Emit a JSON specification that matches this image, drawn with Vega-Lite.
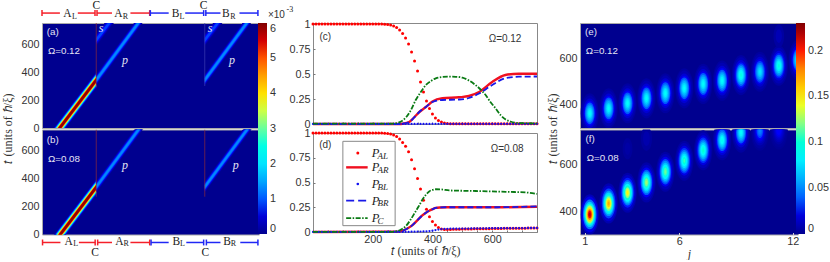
{"$schema":"https://vega.github.io/schema/vega-lite/v6.json","padding":{"left":0,"top":-1,"right":0,"bottom":0},"bounds":"flush","spacing":271,
"resolve":{"scale":{"color":"independent","stroke":"independent","size":"independent"},"legend":{"color":"independent"}},
"config":{"axis":{"grid":false,"domain":false,"labelFont":"Liberation Sans","labelFontSize":10.8,"labelColor":"#333","titleFont":"Liberation Serif","titleFontSize":12,"titleFontWeight":"normal","titleColor":"#333","tickColor":"#777"},
"style":{"Big":{"font":"Liberation Serif","fontSize":11.5},"Sub":{"font":"Liberation Serif","fontSize":8},"Tag":{"font":"Liberation Sans","fontSize":9.8},"Let":{"font":"Liberation Serif","fontStyle":"italic","fontSize":12},"Blk":{"font":"Liberation Sans","fontSize":10},"Pp":{"font":"Liberation Serif","fontStyle":"italic","fontSize":12.5},"Ps":{"font":"Liberation Serif","fontStyle":"italic","fontSize":9}}},
"datasets":{
"a":[{"id":"m1","v":0.3,"x":0,"y":-223,"y2":-109},{"id":"m1","v":0.3,"x":1,"y":286,"y2":400},{"id":"m2","v":0.6,"x":0,"y":-216,"y2":-116},{"id":"m2","v":0.6,"x":1,"y":293,"y2":393},{"id":"m3","v":1,"x":0,"y":-211,"y2":-121},{"id":"m3","v":1,"x":1,"y":298,"y2":388},{"id":"m4","v":1.5,"x":0,"y":-206,"y2":-126},{"id":"m4","v":1.5,"x":1,"y":303,"y2":383},{"id":"m5","v":2,"x":0,"y":-202,"y2":-130},{"id":"m5","v":2,"x":1,"y":307,"y2":379},{"id":"m6","v":2.5,"x":0,"y":-199,"y2":-133},{"id":"m6","v":2.5,"x":1,"y":310,"y2":376},{"id":"m7","v":3,"x":0,"y":-196,"y2":-136},{"id":"m7","v":3,"x":1,"y":313,"y2":373},{"id":"m8","v":3.5,"x":0,"y":-193,"y2":-139},{"id":"m8","v":3.5,"x":1,"y":316,"y2":370},{"id":"m9","v":4,"x":0,"y":-190,"y2":-142},{"id":"m9","v":4,"x":1,"y":319,"y2":367},{"id":"m10","v":4.5,"x":0,"y":-187,"y2":-145},{"id":"m10","v":4.5,"x":1,"y":322,"y2":364},{"id":"m11","v":5,"x":0,"y":-185,"y2":-147},{"id":"m11","v":5,"x":1,"y":324,"y2":362},{"id":"m12","v":5.5,"x":0,"y":-182,"y2":-150},{"id":"m12","v":5.5,"x":1,"y":327,"y2":359},{"id":"m13","v":5.9,"x":0,"y":-179,"y2":-153},{"id":"m13","v":5.9,"x":1,"y":330,"y2":356},
{"id":"p1","v":0.1,"x":1,"y":301,"y2":385},{"id":"p1","v":0.1,"x":2,"y":826,"y2":910},{"id":"p2","v":0.3,"x":1,"y":307,"y2":379},{"id":"p2","v":0.3,"x":2,"y":832,"y2":904},{"id":"p3","v":0.5,"x":1,"y":312,"y2":374},{"id":"p3","v":0.5,"x":2,"y":837,"y2":899},{"id":"p4","v":0.7,"x":1,"y":317,"y2":369},{"id":"p4","v":0.7,"x":2,"y":842,"y2":894},{"id":"p5","v":0.9,"x":1,"y":322,"y2":364},{"id":"p5","v":0.9,"x":2,"y":847,"y2":889},{"id":"p6","v":1.1,"x":1,"y":327,"y2":359},{"id":"p6","v":1.1,"x":2,"y":852,"y2":884},{"id":"p7","v":1.3,"x":1,"y":333,"y2":353},{"id":"p7","v":1.3,"x":2,"y":858,"y2":878},
{"id":"q1","v":0.1,"x":3,"y":301,"y2":385},{"id":"q1","v":0.1,"x":4,"y":826,"y2":910},{"id":"q2","v":0.3,"x":3,"y":307,"y2":379},{"id":"q2","v":0.3,"x":4,"y":832,"y2":904},{"id":"q3","v":0.5,"x":3,"y":312,"y2":374},{"id":"q3","v":0.5,"x":4,"y":837,"y2":899},{"id":"q4","v":0.7,"x":3,"y":317,"y2":369},{"id":"q4","v":0.7,"x":4,"y":842,"y2":894},{"id":"q5","v":0.9,"x":3,"y":322,"y2":364},{"id":"q5","v":0.9,"x":4,"y":847,"y2":889},{"id":"q6","v":1.1,"x":3,"y":327,"y2":359},{"id":"q6","v":1.1,"x":4,"y":852,"y2":884},{"id":"q7","v":1.3,"x":3,"y":333,"y2":353},{"id":"q7","v":1.3,"x":4,"y":858,"y2":878},
{"id":"s1","v":0.1,"x":1,"y":584,"y2":672},{"id":"s1","v":0.1,"x":2,"y":1094,"y2":1182},{"id":"s2","v":0.3,"x":1,"y":592,"y2":664},{"id":"s2","v":0.3,"x":2,"y":1102,"y2":1174},{"id":"s3","v":0.5,"x":1,"y":598,"y2":658},{"id":"s3","v":0.5,"x":2,"y":1108,"y2":1168},{"id":"s4","v":0.7,"x":1,"y":605,"y2":651},{"id":"s4","v":0.7,"x":2,"y":1115,"y2":1161},{"id":"s5","v":0.9,"x":1,"y":613,"y2":643},{"id":"s5","v":0.9,"x":2,"y":1123,"y2":1153},
{"id":"u1","v":0.1,"x":3,"y":584,"y2":672},{"id":"u1","v":0.1,"x":4,"y":1094,"y2":1182},{"id":"u2","v":0.3,"x":3,"y":592,"y2":664},{"id":"u2","v":0.3,"x":4,"y":1102,"y2":1174},{"id":"u3","v":0.5,"x":3,"y":598,"y2":658},{"id":"u3","v":0.5,"x":4,"y":1108,"y2":1168},{"id":"u4","v":0.7,"x":3,"y":605,"y2":651},{"id":"u4","v":0.7,"x":4,"y":1115,"y2":1161},{"id":"u5","v":0.9,"x":3,"y":613,"y2":643},{"id":"u5","v":0.9,"x":4,"y":1123,"y2":1153}],
"b":[{"id":"m1","v":0.3,"x":0,"y":-228,"y2":-114},{"id":"m1","v":0.3,"x":1,"y":281,"y2":395},{"id":"m2","v":0.6,"x":0,"y":-221,"y2":-121},{"id":"m2","v":0.6,"x":1,"y":288,"y2":388},{"id":"m3","v":1,"x":0,"y":-216,"y2":-126},{"id":"m3","v":1,"x":1,"y":293,"y2":383},{"id":"m4","v":1.5,"x":0,"y":-211,"y2":-131},{"id":"m4","v":1.5,"x":1,"y":298,"y2":378},{"id":"m5","v":2,"x":0,"y":-207,"y2":-135},{"id":"m5","v":2,"x":1,"y":302,"y2":374},{"id":"m6","v":2.5,"x":0,"y":-204,"y2":-138},{"id":"m6","v":2.5,"x":1,"y":305,"y2":371},{"id":"m7","v":3,"x":0,"y":-201,"y2":-141},{"id":"m7","v":3,"x":1,"y":308,"y2":368},{"id":"m8","v":3.5,"x":0,"y":-198,"y2":-144},{"id":"m8","v":3.5,"x":1,"y":311,"y2":365},{"id":"m9","v":4,"x":0,"y":-195,"y2":-147},{"id":"m9","v":4,"x":1,"y":314,"y2":362},{"id":"m10","v":4.5,"x":0,"y":-192,"y2":-150},{"id":"m10","v":4.5,"x":1,"y":317,"y2":359},{"id":"m11","v":5,"x":0,"y":-190,"y2":-152},{"id":"m11","v":5,"x":1,"y":319,"y2":357},{"id":"m12","v":5.5,"x":0,"y":-187,"y2":-155},{"id":"m12","v":5.5,"x":1,"y":322,"y2":354},{"id":"m13","v":5.9,"x":0,"y":-184,"y2":-158},{"id":"m13","v":5.9,"x":1,"y":325,"y2":351},
{"id":"p1","v":0.1,"x":1,"y":298,"y2":382},{"id":"p1","v":0.1,"x":2,"y":823,"y2":907},{"id":"p2","v":0.3,"x":1,"y":304,"y2":376},{"id":"p2","v":0.3,"x":2,"y":829,"y2":901},{"id":"p3","v":0.5,"x":1,"y":309,"y2":371},{"id":"p3","v":0.5,"x":2,"y":834,"y2":896},{"id":"p4","v":0.7,"x":1,"y":314,"y2":366},{"id":"p4","v":0.7,"x":2,"y":839,"y2":891},{"id":"p5","v":0.9,"x":1,"y":319,"y2":361},{"id":"p5","v":0.9,"x":2,"y":844,"y2":886},{"id":"p6","v":1.1,"x":1,"y":324,"y2":356},{"id":"p6","v":1.1,"x":2,"y":849,"y2":881},{"id":"p7","v":1.3,"x":1,"y":330,"y2":350},{"id":"p7","v":1.3,"x":2,"y":855,"y2":875},
{"id":"q1","v":0.1,"x":3,"y":298,"y2":382},{"id":"q1","v":0.1,"x":4,"y":823,"y2":907},{"id":"q2","v":0.3,"x":3,"y":304,"y2":376},{"id":"q2","v":0.3,"x":4,"y":829,"y2":901},{"id":"q3","v":0.5,"x":3,"y":309,"y2":371},{"id":"q3","v":0.5,"x":4,"y":834,"y2":896},{"id":"q4","v":0.7,"x":3,"y":314,"y2":366},{"id":"q4","v":0.7,"x":4,"y":839,"y2":891},{"id":"q5","v":0.9,"x":3,"y":319,"y2":361},{"id":"q5","v":0.9,"x":4,"y":844,"y2":886},{"id":"q6","v":1.1,"x":3,"y":324,"y2":356},{"id":"q6","v":1.1,"x":4,"y":849,"y2":881},{"id":"q7","v":1.3,"x":3,"y":330,"y2":350},{"id":"q7","v":1.3,"x":4,"y":855,"y2":875}],
"ra":[{"k":"A","x":0,"x2":0,"y":800,"y2":842},{"k":"A","x":0,"x2":0.33,"y":821,"y2":821},{"k":"A","x":0.66,"x2":0.977,"y":821,"y2":821},{"k":"A","x":0.977,"x2":0.977,"y":800,"y2":842},{"k":"A","x":1.014,"x2":1.014,"y":800,"y2":842},{"k":"A","x":1.014,"x2":1.29,"y":821,"y2":821},{"k":"A","x":1.63,"x2":1.985,"y":821,"y2":821},{"k":"A","x":1.985,"x2":1.985,"y":800,"y2":842},{"k":"B","x":1.997,"x2":1.997,"y":800,"y2":842},{"k":"B","x":1.997,"x2":2.335,"y":821,"y2":821},{"k":"B","x":2.64,"x2":2.98,"y":821,"y2":821},{"k":"B","x":2.98,"x2":2.98,"y":800,"y2":842},{"k":"B","x":3.02,"x2":3.02,"y":800,"y2":842},{"k":"B","x":3.02,"x2":3.29,"y":821,"y2":821},{"k":"B","x":3.64,"x2":3.98,"y":821,"y2":821},{"k":"B","x":3.98,"x2":3.98,"y":800,"y2":842}],
"rb":[{"k":"A","x":0.01,"x2":0.01,"y":-78,"y2":-36},{"k":"A","x":0.01,"x2":0.34,"y":-57,"y2":-57},{"k":"A","x":0.68,"x2":0.98,"y":-57,"y2":-57},{"k":"A","x":0.98,"x2":0.98,"y":-78,"y2":-36},{"k":"A","x":1.026,"x2":1.026,"y":-78,"y2":-36},{"k":"A","x":1.026,"x2":1.29,"y":-57,"y2":-57},{"k":"A","x":1.63,"x2":1.985,"y":-57,"y2":-57},{"k":"A","x":1.985,"x2":1.985,"y":-78,"y2":-36},{"k":"B","x":2.01,"x2":2.01,"y":-78,"y2":-36},{"k":"B","x":2.01,"x2":2.335,"y":-57,"y2":-57},{"k":"B","x":2.66,"x2":2.98,"y":-57,"y2":-57},{"k":"B","x":2.98,"x2":2.98,"y":-78,"y2":-36},{"k":"B","x":3.03,"x2":3.03,"y":-78,"y2":-36},{"k":"B","x":3.03,"x2":3.29,"y":-57,"y2":-57},{"k":"B","x":3.655,"x2":3.98,"y":-57,"y2":-57},{"k":"B","x":3.98,"x2":3.98,"y":-78,"y2":-36}],
"ca":[{"k":"R","x":1,"x2":1,"y":290,"y2":750},{"k":"S","x":3,"x2":3,"y":300,"y2":750}],
"cb":[{"k":"R","x":1,"x2":1,"y":270,"y2":750},{"k":"R","x":3,"x2":3,"y":270,"y2":750}],
"txt":[{"p":"a","k":"Big","x":0.47,"y":814,"s":"A"},{"p":"a","k":"Sub","x":0.6,"y":795,"s":"L"},{"p":"a","k":"Big","x":1.41,"y":814,"s":"A"},{"p":"a","k":"Sub","x":1.54,"y":795,"s":"R"},{"p":"a","k":"Big","x":2.46,"y":814,"s":"B"},{"p":"a","k":"Sub","x":2.58,"y":795,"s":"L"},{"p":"a","k":"Big","x":3.39,"y":814,"s":"B"},{"p":"a","k":"Sub","x":3.52,"y":795,"s":"R"},{"p":"a","k":"Big","x":1,"y":870,"s":"C"},{"p":"a","k":"Big","x":2.98,"y":870,"s":"C"},{"p":"a","k":"Tag","x":0.197,"y":686,"s":"(a)"},{"p":"a","k":"Tag","x":0.405,"y":550,"s":"Ω=0.12"},{"p":"a","k":"Let","x":1.088,"y":714,"s":"s"},{"p":"a","k":"Let","x":1.53,"y":486,"s":"p"},{"p":"a","k":"Let","x":3.1,"y":714,"s":"s"},{"p":"a","k":"Let","x":3.5,"y":486,"s":"p"},{"p":"a","k":"Blk","x":4.32,"y":807,"s":"×10"},{"p":"a","k":"Sub","x":4.57,"y":843,"s":"-3"},
{"p":"b","k":"Big","x":0.49,"y":-55,"s":"A"},{"p":"b","k":"Sub","x":0.62,"y":-71,"s":"L"},{"p":"b","k":"Big","x":1.425,"y":-55,"s":"A"},{"p":"b","k":"Sub","x":1.55,"y":-71,"s":"R"},{"p":"b","k":"Big","x":2.476,"y":-55,"s":"B"},{"p":"b","k":"Sub","x":2.59,"y":-71,"s":"L"},{"p":"b","k":"Big","x":3.41,"y":-55,"s":"B"},{"p":"b","k":"Sub","x":3.53,"y":-71,"s":"R"},{"p":"b","k":"Big","x":0.98,"y":-134,"s":"C"},{"p":"b","k":"Big","x":3.01,"y":-134,"s":"C"},{"p":"b","k":"Tag","x":0.197,"y":678,"s":"(b)"},{"p":"b","k":"Tag","x":0.405,"y":536,"s":"Ω=0.08"},{"p":"b","k":"Let","x":1.53,"y":493,"s":"p"},{"p":"b","k":"Let","x":3.57,"y":493,"s":"p"},
{"p":"c","k":"Blk","x":41,"y":0.867,"s":"(c)"},{"p":"c","k":"Blk","x":643,"y":0.847,"s":"Ω=0.12"},
{"p":"d","k":"Blk","x":41,"y":0.879,"s":"(d)"},{"p":"d","k":"Blk","x":650,"y":0.838,"s":"Ω=0.08"},
{"p":"d","k":"Pp","x":197,"y":0.798,"s":"P"},{"p":"d","k":"Ps","x":216,"y":0.77,"s":"AL"},{"p":"d","k":"Pp","x":197,"y":0.653,"s":"P"},{"p":"d","k":"Ps","x":216,"y":0.625,"s":"AR"},{"p":"d","k":"Pp","x":197,"y":0.485,"s":"P"},{"p":"d","k":"Ps","x":216,"y":0.457,"s":"BL"},{"p":"d","k":"Pp","x":197,"y":0.316,"s":"P"},{"p":"d","k":"Ps","x":216,"y":0.288,"s":"BR"},{"p":"d","k":"Pp","x":197,"y":0.14,"s":"P"},{"p":"d","k":"Ps","x":216,"y":0.112,"s":"C"},
{"p":"e","k":"Tag","x":1.33,"y":713,"s":"(e)"},{"p":"e","k":"Tag","x":1.91,"y":630,"s":"Ω=0.12"},
{"p":"f","k":"Tag","x":1.28,"y":708,"s":"(f)"},{"p":"f","k":"Tag","x":1.95,"y":627,"s":"Ω=0.08"}],
"cl":[{"s":"AR","x":0,"y":0},{"s":"AR","x":290,"y":0},{"s":"AR","x":300,"y":0.003},{"s":"AR","x":322,"y":0.02},{"s":"AR","x":340,"y":0.07},{"s":"AR","x":356,"y":0.12},{"s":"AR","x":378,"y":0.17},{"s":"AR","x":400,"y":0.225},{"s":"AR","x":433,"y":0.257},{"s":"AR","x":489,"y":0.267},{"s":"AR","x":522,"y":0.28},{"s":"AR","x":556,"y":0.32},{"s":"AR","x":600,"y":0.42},{"s":"AR","x":644,"y":0.49},{"s":"AR","x":689,"y":0.503},{"s":"AR","x":750,"y":0.503},
{"s":"BR","x":0,"y":0},{"s":"BR","x":290,"y":0},{"s":"BR","x":300,"y":0.003},{"s":"BR","x":322,"y":0.02},{"s":"BR","x":340,"y":0.07},{"s":"BR","x":356,"y":0.12},{"s":"BR","x":378,"y":0.17},{"s":"BR","x":400,"y":0.22},{"s":"BR","x":433,"y":0.24},{"s":"BR","x":489,"y":0.245},{"s":"BR","x":522,"y":0.26},{"s":"BR","x":556,"y":0.305},{"s":"BR","x":600,"y":0.39},{"s":"BR","x":644,"y":0.457},{"s":"BR","x":689,"y":0.473},{"s":"BR","x":750,"y":0.475},
{"s":"C","x":0,"y":0.003},{"s":"C","x":260,"y":0.003},{"s":"C","x":278,"y":0.008},{"s":"C","x":295,"y":0.025},{"s":"C","x":311,"y":0.065},{"s":"C","x":328,"y":0.14},{"s":"C","x":344,"y":0.24},{"s":"C","x":361,"y":0.32},{"s":"C","x":378,"y":0.39},{"s":"C","x":395,"y":0.43},{"s":"C","x":411,"y":0.457},{"s":"C","x":433,"y":0.47},{"s":"C","x":456,"y":0.473},{"s":"C","x":478,"y":0.472},{"s":"C","x":500,"y":0.463},{"s":"C","x":522,"y":0.435},{"s":"C","x":544,"y":0.39},{"s":"C","x":561,"y":0.345},{"s":"C","x":578,"y":0.29},{"s":"C","x":594,"y":0.22},{"s":"C","x":611,"y":0.157},{"s":"C","x":628,"y":0.09},{"s":"C","x":644,"y":0.047},{"s":"C","x":661,"y":0.025},{"s":"C","x":678,"y":0.013},{"s":"C","x":700,"y":0.009},{"s":"C","x":750,"y":0.007}],
"dl":[{"s":"AR","x":0,"y":0},{"s":"AR","x":285,"y":0.003},{"s":"AR","x":300,"y":0.013},{"s":"AR","x":316,"y":0.035},{"s":"AR","x":333,"y":0.07},{"s":"AR","x":350,"y":0.12},{"s":"AR","x":367,"y":0.17},{"s":"AR","x":378,"y":0.195},{"s":"AR","x":389,"y":0.215},{"s":"AR","x":400,"y":0.23},{"s":"AR","x":411,"y":0.243},{"s":"AR","x":428,"y":0.248},{"s":"AR","x":444,"y":0.25},{"s":"AR","x":600,"y":0.25},{"s":"AR","x":700,"y":0.252},{"s":"AR","x":750,"y":0.255},
{"s":"BR","x":0,"y":0},{"s":"BR","x":285,"y":0.003},{"s":"BR","x":300,"y":0.013},{"s":"BR","x":316,"y":0.035},{"s":"BR","x":333,"y":0.07},{"s":"BR","x":350,"y":0.12},{"s":"BR","x":367,"y":0.17},{"s":"BR","x":378,"y":0.195},{"s":"BR","x":389,"y":0.215},{"s":"BR","x":400,"y":0.23},{"s":"BR","x":411,"y":0.243},{"s":"BR","x":428,"y":0.248},{"s":"BR","x":444,"y":0.25},{"s":"BR","x":600,"y":0.25},{"s":"BR","x":700,"y":0.254},{"s":"BR","x":750,"y":0.26},
{"s":"C","x":0,"y":0.002},{"s":"C","x":265,"y":0.002},{"s":"C","x":278,"y":0.006},{"s":"C","x":295,"y":0.025},{"s":"C","x":311,"y":0.06},{"s":"C","x":328,"y":0.13},{"s":"C","x":344,"y":0.21},{"s":"C","x":356,"y":0.27},{"s":"C","x":367,"y":0.33},{"s":"C","x":378,"y":0.375},{"s":"C","x":389,"y":0.41},{"s":"C","x":400,"y":0.425},{"s":"C","x":411,"y":0.432},{"s":"C","x":430,"y":0.43},{"s":"C","x":456,"y":0.42},{"s":"C","x":530,"y":0.415},{"s":"C","x":600,"y":0.41},{"s":"C","x":660,"y":0.405},{"s":"C","x":711,"y":0.4},{"s":"C","x":750,"y":0.385}],
"cal":[{"x":0,"y":1},{"x":10,"y":1},{"x":20,"y":1},{"x":30,"y":1},{"x":40,"y":1},{"x":50,"y":1},{"x":60,"y":1},{"x":70,"y":1},{"x":80,"y":1},{"x":90,"y":1},{"x":100,"y":1},{"x":110,"y":1},{"x":120,"y":1},{"x":130,"y":1},{"x":140,"y":1},{"x":150,"y":1},{"x":160,"y":1},{"x":170,"y":1},{"x":180,"y":1},{"x":190,"y":1},{"x":200,"y":1},{"x":210,"y":1},{"x":220,"y":1},{"x":230,"y":0.999},{"x":240,"y":0.998},{"x":250,"y":0.995},{"x":260,"y":0.99},{"x":270,"y":0.98},{"x":280,"y":0.965},{"x":290,"y":0.94},{"x":300,"y":0.905},{"x":310,"y":0.86},{"x":320,"y":0.8},{"x":330,"y":0.72},{"x":340,"y":0.63},{"x":350,"y":0.53},{"x":360,"y":0.42},{"x":370,"y":0.32},{"x":380,"y":0.23},{"x":390,"y":0.155},{"x":400,"y":0.1},{"x":410,"y":0.06},{"x":420,"y":0.035},{"x":430,"y":0.02},{"x":440,"y":0.01},{"x":450,"y":0.005},{"x":460,"y":0.002},{"x":470,"y":0.002},{"x":480,"y":0.002},{"x":490,"y":0.002},{"x":500,"y":0.002},{"x":510,"y":0.002},{"x":520,"y":0.002},{"x":530,"y":0.002},{"x":540,"y":0.002},{"x":550,"y":0.002},{"x":560,"y":0.002},{"x":570,"y":0.002},{"x":580,"y":0.002},{"x":590,"y":0.002},{"x":600,"y":0.002},{"x":610,"y":0.002},{"x":620,"y":0.002},{"x":630,"y":0.002},{"x":640,"y":0.002},{"x":650,"y":0.002},{"x":660,"y":0.002},{"x":670,"y":0.002},{"x":680,"y":0.002},{"x":690,"y":0.002},{"x":700,"y":0.002},{"x":710,"y":0.002},{"x":720,"y":0.002},{"x":730,"y":0.002},{"x":740,"y":0.002},{"x":750,"y":0.002}],
"dal":[{"x":0,"y":1},{"x":10,"y":1},{"x":20,"y":1},{"x":30,"y":1},{"x":40,"y":1},{"x":50,"y":1},{"x":60,"y":1},{"x":70,"y":1},{"x":80,"y":1},{"x":90,"y":1},{"x":100,"y":1},{"x":110,"y":1},{"x":120,"y":1},{"x":130,"y":1},{"x":140,"y":1},{"x":150,"y":1},{"x":160,"y":1},{"x":170,"y":1},{"x":180,"y":1},{"x":190,"y":1},{"x":200,"y":1},{"x":210,"y":1},{"x":220,"y":1},{"x":230,"y":0.999},{"x":240,"y":0.998},{"x":250,"y":0.996},{"x":260,"y":0.99},{"x":270,"y":0.98},{"x":280,"y":0.965},{"x":290,"y":0.94},{"x":300,"y":0.905},{"x":310,"y":0.865},{"x":320,"y":0.81},{"x":330,"y":0.73},{"x":340,"y":0.64},{"x":350,"y":0.54},{"x":360,"y":0.435},{"x":370,"y":0.32},{"x":380,"y":0.23},{"x":390,"y":0.155},{"x":400,"y":0.105},{"x":410,"y":0.07},{"x":420,"y":0.045},{"x":430,"y":0.03},{"x":440,"y":0.026},{"x":450,"y":0.025},{"x":460,"y":0.026},{"x":470,"y":0.027},{"x":480,"y":0.028},{"x":490,"y":0.029},{"x":500,"y":0.03},{"x":510,"y":0.03},{"x":520,"y":0.031},{"x":530,"y":0.031},{"x":540,"y":0.032},{"x":550,"y":0.032},{"x":560,"y":0.033},{"x":570,"y":0.033},{"x":580,"y":0.034},{"x":590,"y":0.034},{"x":600,"y":0.035},{"x":610,"y":0.035},{"x":620,"y":0.036},{"x":630,"y":0.036},{"x":640,"y":0.037},{"x":650,"y":0.037},{"x":660,"y":0.038},{"x":670,"y":0.038},{"x":680,"y":0.038},{"x":690,"y":0.039},{"x":700,"y":0.039},{"x":710,"y":0.039},{"x":720,"y":0.04},{"x":730,"y":0.04},{"x":740,"y":0.04},{"x":750,"y":0.04}],
"cbl":[{"x":0,"y":0.001},{"x":10,"y":0.001},{"x":20,"y":0.001},{"x":30,"y":0.001},{"x":40,"y":0.001},{"x":50,"y":0.001},{"x":60,"y":0.001},{"x":70,"y":0.001},{"x":80,"y":0.001},{"x":90,"y":0.001},{"x":100,"y":0.001},{"x":110,"y":0.001},{"x":120,"y":0.001},{"x":130,"y":0.001},{"x":140,"y":0.001},{"x":150,"y":0.001},{"x":160,"y":0.001},{"x":170,"y":0.001},{"x":180,"y":0.001},{"x":190,"y":0.001},{"x":200,"y":0.001},{"x":210,"y":0.001},{"x":220,"y":0.001},{"x":230,"y":0.001},{"x":240,"y":0.001},{"x":250,"y":0.001},{"x":260,"y":0.001},{"x":270,"y":0.001},{"x":280,"y":0.001},{"x":290,"y":0.001},{"x":300,"y":0.001},{"x":310,"y":0.001},{"x":320,"y":0.001},{"x":330,"y":0.001},{"x":340,"y":0.001},{"x":350,"y":0.001},{"x":360,"y":0.001},{"x":370,"y":0.001},{"x":380,"y":0.001},{"x":390,"y":0.001},{"x":400,"y":0.002},{"x":410,"y":0.002},{"x":420,"y":0.002},{"x":430,"y":0.002},{"x":440,"y":0.002},{"x":450,"y":0.002},{"x":460,"y":0.002},{"x":470,"y":0.002},{"x":480,"y":0.002},{"x":490,"y":0.002},{"x":500,"y":0.002},{"x":510,"y":0.002},{"x":520,"y":0.002},{"x":530,"y":0.002},{"x":540,"y":0.002},{"x":550,"y":0.002},{"x":560,"y":0.002},{"x":570,"y":0.002},{"x":580,"y":0.002},{"x":590,"y":0.002},{"x":600,"y":0.002},{"x":610,"y":0.002},{"x":620,"y":0.002},{"x":630,"y":0.002},{"x":640,"y":0.002},{"x":650,"y":0.002},{"x":660,"y":0.002},{"x":670,"y":0.002},{"x":680,"y":0.002},{"x":690,"y":0.002},{"x":700,"y":0.002},{"x":710,"y":0.002},{"x":720,"y":0.002},{"x":730,"y":0.002},{"x":740,"y":0.002},{"x":750,"y":0.002}],
"dbl":[{"x":0,"y":0.001},{"x":10,"y":0.001},{"x":20,"y":0.001},{"x":30,"y":0.001},{"x":40,"y":0.001},{"x":50,"y":0.001},{"x":60,"y":0.001},{"x":70,"y":0.001},{"x":80,"y":0.001},{"x":90,"y":0.001},{"x":100,"y":0.001},{"x":110,"y":0.001},{"x":120,"y":0.001},{"x":130,"y":0.001},{"x":140,"y":0.001},{"x":150,"y":0.001},{"x":160,"y":0.001},{"x":170,"y":0.001},{"x":180,"y":0.001},{"x":190,"y":0.001},{"x":200,"y":0.001},{"x":210,"y":0.001},{"x":220,"y":0.001},{"x":230,"y":0.001},{"x":240,"y":0.001},{"x":250,"y":0.001},{"x":260,"y":0.001},{"x":270,"y":0.001},{"x":280,"y":0.001},{"x":290,"y":0.001},{"x":300,"y":0.001},{"x":310,"y":0.002},{"x":320,"y":0.002},{"x":330,"y":0.003},{"x":340,"y":0.003},{"x":350,"y":0.004},{"x":360,"y":0.005},{"x":370,"y":0.006},{"x":380,"y":0.007},{"x":390,"y":0.01},{"x":400,"y":0.013},{"x":410,"y":0.02},{"x":420,"y":0.025},{"x":430,"y":0.03},{"x":440,"y":0.031},{"x":450,"y":0.032},{"x":460,"y":0.033},{"x":470,"y":0.033},{"x":480,"y":0.034},{"x":490,"y":0.034},{"x":500,"y":0.035},{"x":510,"y":0.035},{"x":520,"y":0.035},{"x":530,"y":0.036},{"x":540,"y":0.036},{"x":550,"y":0.036},{"x":560,"y":0.037},{"x":570,"y":0.037},{"x":580,"y":0.037},{"x":590,"y":0.038},{"x":600,"y":0.038},{"x":610,"y":0.038},{"x":620,"y":0.038},{"x":630,"y":0.039},{"x":640,"y":0.039},{"x":650,"y":0.039},{"x":660,"y":0.039},{"x":670,"y":0.04},{"x":680,"y":0.04},{"x":690,"y":0.04},{"x":700,"y":0.04},{"x":710,"y":0.04},{"x":720,"y":0.041},{"x":730,"y":0.041},{"x":740,"y":0.041},{"x":750,"y":0.041}],
"leg":[{"x":100,"x2":275,"y":0.064,"y2":0.916,"s":"box"},{"x":111,"x2":183,"y":0.653,"s":"AR"},{"x":111,"x2":183,"y":0.316,"s":"BR"},{"x":111,"x2":183,"y":0.14,"s":"C"},{"x":150,"y":0.798,"s":"AL"},{"x":150,"y":0.485,"s":"BL"}],
"e":[
{"x":1.265,"y":363,"v":0.0045,"h":62},{"x":1.265,"y":363,"v":0.009,"h":55},{"x":1.265,"y":363,"v":0.018,"h":46},{"x":1.265,"y":363,"v":0.027,"h":39},{"x":1.265,"y":363,"v":0.038,"h":33.5},{"x":1.265,"y":363,"v":0.05,"h":28},{"x":1.265,"y":363,"v":0.061,"h":22.5},{"x":1.265,"y":363,"v":0.072,"h":17},{"x":1.265,"y":363,"v":0.081,"h":12},{"x":1.265,"y":363,"v":0.087,"h":6},
{"x":2.265,"y":384,"v":0.0045,"h":62},{"x":2.265,"y":384,"v":0.009,"h":55},{"x":2.265,"y":384,"v":0.018,"h":46},{"x":2.265,"y":384,"v":0.027,"h":39},{"x":2.265,"y":384,"v":0.038,"h":33.5},{"x":2.265,"y":384,"v":0.05,"h":28},{"x":2.265,"y":384,"v":0.061,"h":22.5},{"x":2.265,"y":384,"v":0.072,"h":17},{"x":2.265,"y":384,"v":0.081,"h":12},{"x":2.265,"y":384,"v":0.087,"h":6},
{"x":3.265,"y":406,"v":0.0045,"h":62},{"x":3.265,"y":406,"v":0.009,"h":55},{"x":3.265,"y":406,"v":0.018,"h":46},{"x":3.265,"y":406,"v":0.027,"h":39},{"x":3.265,"y":406,"v":0.038,"h":33.5},{"x":3.265,"y":406,"v":0.05,"h":28},{"x":3.265,"y":406,"v":0.061,"h":22.5},{"x":3.265,"y":406,"v":0.072,"h":17},{"x":3.265,"y":406,"v":0.081,"h":12},{"x":3.265,"y":406,"v":0.087,"h":6},
{"x":4.265,"y":427,"v":0.0045,"h":62},{"x":4.265,"y":427,"v":0.009,"h":55},{"x":4.265,"y":427,"v":0.018,"h":46},{"x":4.265,"y":427,"v":0.027,"h":39},{"x":4.265,"y":427,"v":0.038,"h":33.5},{"x":4.265,"y":427,"v":0.05,"h":28},{"x":4.265,"y":427,"v":0.061,"h":22.5},{"x":4.265,"y":427,"v":0.072,"h":17},{"x":4.265,"y":427,"v":0.081,"h":12},{"x":4.265,"y":427,"v":0.087,"h":6},
{"x":5.265,"y":449,"v":0.0045,"h":62},{"x":5.265,"y":449,"v":0.009,"h":55},{"x":5.265,"y":449,"v":0.018,"h":46},{"x":5.265,"y":449,"v":0.027,"h":39},{"x":5.265,"y":449,"v":0.038,"h":33.5},{"x":5.265,"y":449,"v":0.05,"h":28},{"x":5.265,"y":449,"v":0.061,"h":22.5},{"x":5.265,"y":449,"v":0.072,"h":17},{"x":5.265,"y":449,"v":0.081,"h":12},{"x":5.265,"y":449,"v":0.087,"h":6},
{"x":6.265,"y":470,"v":0.0045,"h":62},{"x":6.265,"y":470,"v":0.009,"h":55},{"x":6.265,"y":470,"v":0.018,"h":46},{"x":6.265,"y":470,"v":0.027,"h":39},{"x":6.265,"y":470,"v":0.038,"h":33.5},{"x":6.265,"y":470,"v":0.05,"h":28},{"x":6.265,"y":470,"v":0.061,"h":22.5},{"x":6.265,"y":470,"v":0.072,"h":17},{"x":6.265,"y":470,"v":0.081,"h":12},{"x":6.265,"y":470,"v":0.087,"h":6},
{"x":7.265,"y":489,"v":0.0045,"h":62},{"x":7.265,"y":489,"v":0.009,"h":55},{"x":7.265,"y":489,"v":0.018,"h":46},{"x":7.265,"y":489,"v":0.027,"h":39},{"x":7.265,"y":489,"v":0.038,"h":33.5},{"x":7.265,"y":489,"v":0.05,"h":28},{"x":7.265,"y":489,"v":0.061,"h":22.5},{"x":7.265,"y":489,"v":0.072,"h":17},{"x":7.265,"y":489,"v":0.081,"h":12},{"x":7.265,"y":489,"v":0.087,"h":6},
{"x":8.265,"y":503,"v":0.0045,"h":62},{"x":8.265,"y":503,"v":0.009,"h":55},{"x":8.265,"y":503,"v":0.018,"h":46},{"x":8.265,"y":503,"v":0.027,"h":39},{"x":8.265,"y":503,"v":0.038,"h":33.5},{"x":8.265,"y":503,"v":0.05,"h":28},{"x":8.265,"y":503,"v":0.061,"h":22.5},{"x":8.265,"y":503,"v":0.072,"h":17},{"x":8.265,"y":503,"v":0.081,"h":12},{"x":8.265,"y":503,"v":0.087,"h":6},
{"x":9.265,"y":527,"v":0.005,"h":62},{"x":9.265,"y":527,"v":0.01,"h":55},{"x":9.265,"y":527,"v":0.02,"h":46},{"x":9.265,"y":527,"v":0.03,"h":39},{"x":9.265,"y":527,"v":0.042,"h":33.5},{"x":9.265,"y":527,"v":0.055,"h":28},{"x":9.265,"y":527,"v":0.068,"h":22.5},{"x":9.265,"y":527,"v":0.08,"h":17},{"x":9.265,"y":527,"v":0.09,"h":12},{"x":9.265,"y":527,"v":0.097,"h":6},
{"x":10.265,"y":541,"v":0.004,"h":62},{"x":10.265,"y":541,"v":0.008,"h":55},{"x":10.265,"y":541,"v":0.016,"h":46},{"x":10.265,"y":541,"v":0.024,"h":39},{"x":10.265,"y":541,"v":0.034,"h":33.5},{"x":10.265,"y":541,"v":0.044,"h":28},{"x":10.265,"y":541,"v":0.054,"h":22.5},{"x":10.265,"y":541,"v":0.064,"h":17},{"x":10.265,"y":541,"v":0.072,"h":12},{"x":10.265,"y":541,"v":0.078,"h":6},
{"x":11.265,"y":567,"v":0.005,"h":62},{"x":11.265,"y":567,"v":0.01,"h":55},{"x":11.265,"y":567,"v":0.02,"h":46},{"x":11.265,"y":567,"v":0.03,"h":39},{"x":11.265,"y":567,"v":0.042,"h":33.5},{"x":11.265,"y":567,"v":0.055,"h":28},{"x":11.265,"y":567,"v":0.068,"h":22.5},{"x":11.265,"y":567,"v":0.08,"h":17},{"x":11.265,"y":567,"v":0.09,"h":12},{"x":11.265,"y":567,"v":0.097,"h":6},
{"x":12.265,"y":591,"v":0.0045,"h":62},{"x":12.265,"y":591,"v":0.009,"h":55},{"x":12.265,"y":591,"v":0.018,"h":46},{"x":12.265,"y":591,"v":0.027,"h":39},{"x":12.265,"y":591,"v":0.038,"h":33.5},{"x":12.265,"y":591,"v":0.05,"h":28},{"x":12.265,"y":591,"v":0.061,"h":22.5},{"x":12.265,"y":591,"v":0.072,"h":17},{"x":12.265,"y":591,"v":0.081,"h":12},{"x":12.265,"y":591,"v":0.087,"h":6},
{"x":11.265,"y":694,"v":0.005,"h":36},{"x":11.265,"y":694,"v":0.01,"h":21}],
"f":[
{"x":1.265,"y":386,"v":0.011,"h":62},{"x":1.265,"y":386,"v":0.023,"h":55},{"x":1.265,"y":386,"v":0.045,"h":46},{"x":1.265,"y":386,"v":0.068,"h":39},{"x":1.265,"y":386,"v":0.095,"h":33.5},{"x":1.265,"y":386,"v":0.124,"h":28},{"x":1.265,"y":386,"v":0.153,"h":22.5},{"x":1.265,"y":386,"v":0.18,"h":17},{"x":1.265,"y":386,"v":0.203,"h":12},{"x":1.265,"y":386,"v":0.218,"h":6},
{"x":2.265,"y":433,"v":0.009,"h":62},{"x":2.265,"y":433,"v":0.018,"h":55},{"x":2.265,"y":433,"v":0.035,"h":46},{"x":2.265,"y":433,"v":0.053,"h":39},{"x":2.265,"y":433,"v":0.074,"h":33.5},{"x":2.265,"y":433,"v":0.096,"h":28},{"x":2.265,"y":433,"v":0.119,"h":22.5},{"x":2.265,"y":433,"v":0.14,"h":17},{"x":2.265,"y":433,"v":0.158,"h":12},{"x":2.265,"y":433,"v":0.17,"h":6},
{"x":3.265,"y":479,"v":0.0075,"h":62},{"x":3.265,"y":479,"v":0.015,"h":55},{"x":3.265,"y":479,"v":0.03,"h":46},{"x":3.265,"y":479,"v":0.045,"h":39},{"x":3.265,"y":479,"v":0.063,"h":33.5},{"x":3.265,"y":479,"v":0.083,"h":28},{"x":3.265,"y":479,"v":0.102,"h":22.5},{"x":3.265,"y":479,"v":0.12,"h":17},{"x":3.265,"y":479,"v":0.135,"h":12},{"x":3.265,"y":479,"v":0.146,"h":6},
{"x":4.265,"y":523,"v":0.0065,"h":62},{"x":4.265,"y":523,"v":0.013,"h":55},{"x":4.265,"y":523,"v":0.026,"h":46},{"x":4.265,"y":523,"v":0.039,"h":39},{"x":4.265,"y":523,"v":0.055,"h":33.5},{"x":4.265,"y":523,"v":0.072,"h":28},{"x":4.265,"y":523,"v":0.088,"h":22.5},{"x":4.265,"y":523,"v":0.104,"h":17},{"x":4.265,"y":523,"v":0.117,"h":12},{"x":4.265,"y":523,"v":0.126,"h":6},
{"x":5.265,"y":569,"v":0.006,"h":62},{"x":5.265,"y":569,"v":0.012,"h":55},{"x":5.265,"y":569,"v":0.024,"h":46},{"x":5.265,"y":569,"v":0.036,"h":39},{"x":5.265,"y":569,"v":0.05,"h":33.5},{"x":5.265,"y":569,"v":0.066,"h":28},{"x":5.265,"y":569,"v":0.082,"h":22.5},{"x":5.265,"y":569,"v":0.096,"h":17},{"x":5.265,"y":569,"v":0.108,"h":12},{"x":5.265,"y":569,"v":0.116,"h":6},
{"x":6.265,"y":616,"v":0.0055,"h":62},{"x":6.265,"y":616,"v":0.011,"h":55},{"x":6.265,"y":616,"v":0.022,"h":46},{"x":6.265,"y":616,"v":0.033,"h":39},{"x":6.265,"y":616,"v":0.046,"h":33.5},{"x":6.265,"y":616,"v":0.06,"h":28},{"x":6.265,"y":616,"v":0.075,"h":22.5},{"x":6.265,"y":616,"v":0.088,"h":17},{"x":6.265,"y":616,"v":0.099,"h":12},{"x":6.265,"y":616,"v":0.107,"h":6},
{"x":7.265,"y":661,"v":0.0053,"h":62},{"x":7.265,"y":661,"v":0.011,"h":55},{"x":7.265,"y":661,"v":0.021,"h":46},{"x":7.265,"y":661,"v":0.032,"h":39},{"x":7.265,"y":661,"v":0.044,"h":33.5},{"x":7.265,"y":661,"v":0.058,"h":28},{"x":7.265,"y":661,"v":0.071,"h":22.5},{"x":7.265,"y":661,"v":0.084,"h":17},{"x":7.265,"y":661,"v":0.095,"h":12},{"x":7.265,"y":661,"v":0.102,"h":6},
{"x":8.265,"y":704,"v":0.0048,"h":62},{"x":8.265,"y":704,"v":0.0095,"h":55},{"x":8.265,"y":704,"v":0.019,"h":46},{"x":8.265,"y":704,"v":0.029,"h":39},{"x":8.265,"y":704,"v":0.04,"h":33.5},{"x":8.265,"y":704,"v":0.052,"h":28},{"x":8.265,"y":704,"v":0.065,"h":22.5},{"x":8.265,"y":704,"v":0.076,"h":17},{"x":8.265,"y":704,"v":0.086,"h":12},{"x":8.265,"y":704,"v":0.092,"h":6},
{"x":9.265,"y":737,"v":0.0045,"h":62},{"x":9.265,"y":737,"v":0.009,"h":55},{"x":9.265,"y":737,"v":0.018,"h":46},{"x":9.265,"y":737,"v":0.027,"h":39},{"x":9.265,"y":737,"v":0.038,"h":33.5},{"x":9.265,"y":737,"v":0.05,"h":28},{"x":9.265,"y":737,"v":0.061,"h":22.5},{"x":9.265,"y":737,"v":0.072,"h":17},{"x":9.265,"y":737,"v":0.081,"h":12},{"x":9.265,"y":737,"v":0.087,"h":6},
{"x":10.265,"y":745,"v":0.0025,"h":62},{"x":10.265,"y":745,"v":0.005,"h":55},{"x":10.265,"y":745,"v":0.01,"h":46},{"x":10.265,"y":745,"v":0.015,"h":39},{"x":10.265,"y":745,"v":0.021,"h":33.5},{"x":10.265,"y":745,"v":0.028,"h":28},{"x":10.265,"y":745,"v":0.034,"h":22.5},{"x":10.265,"y":745,"v":0.04,"h":17},{"x":10.265,"y":745,"v":0.045,"h":12},{"x":10.265,"y":745,"v":0.049,"h":6},
{"x":11.265,"y":750,"v":0.0018,"h":62},{"x":11.265,"y":750,"v":0.0035,"h":55},{"x":11.265,"y":750,"v":0.007,"h":46},{"x":11.265,"y":750,"v":0.011,"h":39},{"x":11.265,"y":750,"v":0.015,"h":33.5},{"x":11.265,"y":750,"v":0.019,"h":28},{"x":11.265,"y":750,"v":0.024,"h":22.5},{"x":11.265,"y":750,"v":0.028,"h":17},
{"x":4.265,"y":711,"v":0.004,"h":38},{"x":4.265,"y":711,"v":0.008,"h":23},{"x":3.265,"y":668,"v":0.0034,"h":33},{"x":3.265,"y":668,"v":0.006,"h":19}]
},
"hconcat":[
{"vconcat":[
{"width":217,"height":105,"view":{"fill":"#00008f","stroke":"#aaa"},
"encoding":{"x":{"field":"x","type":"quantitative","scale":{"domain":[0,4],"nice":false,"zero":false},"axis":null},"y":{"field":"y","type":"quantitative","scale":{"domain":[0,750],"nice":false,"zero":false},"axis":{"values":[0,200,400,600],"tickSize":0,"labelPadding":3,"title":"𝑡 (units of ℏ/ξ)","titleX":-28,"titleY":105}}},
"layer":[
{"data":{"name":"a"},"mark":{"type":"area","orient":"vertical","clip":true},"encoding":{"y2":{"field":"y2"},"detail":{"field":"id"},"color":{"field":"v","type":"quantitative","scale":{"domain":[0,0.75,2.25,3.75,5.25,6],"range":["#00008f","#0000ff","#00ffff","#ffff00","#ff0000","#800000"]},"legend":{"orient":"none","legendX":216,"legendY":0,"padding":0,"direction":"vertical","gradientLength":211,"gradientThickness":9,"title":null,"values":[0,1,2,3,4,5,6],"labelFont":"Liberation Sans","labelFontSize":10.8,"labelColor":"#333","labelOffset":3}}}},
{"data":{"name":"ca"},"mark":{"type":"rule","strokeWidth":1,"opacity":0.7,"clip":true},"encoding":{"x2":{"field":"x2"},"y2":{"field":"y2"},"stroke":{"field":"k","type":"nominal","scale":{"domain":["A","B","R","S"],"range":["#f5202a","#2028f5","#8a2a3a","#3c3cb0"]},"legend":null}}},
{"data":{"name":"ra"},"mark":{"type":"rule","strokeWidth":1.5},"encoding":{"x2":{"field":"x2"},"y2":{"field":"y2"},"stroke":{"field":"k","type":"nominal","scale":{"domain":["A","B","R","S"],"range":["#f5202a","#2028f5","#8a2a3a","#3c3cb0"]},"legend":null}}},
{"data":{"name":"txt"},"transform":[{"filter":"datum.p=='a'&&datum.k=='Big'"}],"mark":{"type":"text","style":"Big","color":"#222"},"encoding":{"text":{"field":"s"}}},
{"data":{"name":"txt"},"transform":[{"filter":"datum.p=='a'&&datum.k=='Sub'"}],"mark":{"type":"text","style":"Sub","color":"#222"},"encoding":{"text":{"field":"s"}}},
{"data":{"name":"txt"},"transform":[{"filter":"datum.p=='a'&&datum.k=='Tag'"}],"mark":{"type":"text","style":"Tag","color":"#e4e4f4"},"encoding":{"text":{"field":"s"}}},
{"data":{"name":"txt"},"transform":[{"filter":"datum.p=='a'&&datum.k=='Let'"}],"mark":{"type":"text","style":"Let","color":"#e4e4f4"},"encoding":{"text":{"field":"s"}}},
{"data":{"name":"txt"},"transform":[{"filter":"datum.p=='a'&&datum.k=='Blk'"}],"mark":{"type":"text","style":"Blk","color":"#333"},"encoding":{"text":{"field":"s"}}}
]},
{"width":217,"height":105,"view":{"fill":"#00008f","stroke":"#aaa"},
"encoding":{"x":{"field":"x","type":"quantitative","scale":{"domain":[0,4],"nice":false,"zero":false},"axis":null},"y":{"field":"y","type":"quantitative","scale":{"domain":[0,750],"nice":false,"zero":false},"axis":{"values":[0,200,400,600],"tickSize":0,"labelPadding":3,"title":null}}},
"layer":[
{"data":{"name":"b"},"mark":{"type":"area","orient":"vertical","clip":true},"encoding":{"y2":{"field":"y2"},"detail":{"field":"id"},"color":{"field":"v","type":"quantitative","scale":{"domain":[0,0.75,2.25,3.75,5.25,6],"range":["#00008f","#0000ff","#00ffff","#ffff00","#ff0000","#800000"]},"legend":null}}},
{"data":{"name":"cb"},"mark":{"type":"rule","strokeWidth":1,"opacity":0.7,"clip":true},"encoding":{"x2":{"field":"x2"},"y2":{"field":"y2"},"stroke":{"field":"k","type":"nominal","scale":{"domain":["A","B","R","S"],"range":["#f5202a","#2028f5","#8a2a3a","#3c3cb0"]},"legend":null}}},
{"data":{"name":"rb"},"mark":{"type":"rule","strokeWidth":1.5},"encoding":{"x2":{"field":"x2"},"y2":{"field":"y2"},"stroke":{"field":"k","type":"nominal","scale":{"domain":["A","B","R","S"],"range":["#f5202a","#2028f5","#8a2a3a","#3c3cb0"]},"legend":null}}},
{"data":{"name":"txt"},"transform":[{"filter":"datum.p=='b'&&datum.k=='Big'"}],"mark":{"type":"text","style":"Big","color":"#222"},"encoding":{"text":{"field":"s"}}},
{"data":{"name":"txt"},"transform":[{"filter":"datum.p=='b'&&datum.k=='Sub'"}],"mark":{"type":"text","style":"Sub","color":"#222"},"encoding":{"text":{"field":"s"}}},
{"data":{"name":"txt"},"transform":[{"filter":"datum.p=='b'&&datum.k=='Tag'"}],"mark":{"type":"text","style":"Tag","color":"#e4e4f4"},"encoding":{"text":{"field":"s"}}},
{"data":{"name":"txt"},"transform":[{"filter":"datum.p=='b'&&datum.k=='Let'"}],"mark":{"type":"text","style":"Let","color":"#e4e4f4"},"encoding":{"text":{"field":"s"}}}
]}
],"spacing":1.5,"bounds":"flush"},
{"hconcat":[
{"vconcat":[
{"width":224,"height":101,"view":{"stroke":"#888"},
"encoding":{"x":{"field":"x","type":"quantitative","scale":{"domain":[0,750],"nice":false,"zero":false},"axis":{"values":[0,50,100,150,200,250,300,350,400,450,500,550,600,650,700,750],"labels":false,"tickSize":-2,"title":null}},"y":{"field":"y","type":"quantitative","scale":{"domain":[0,1.01],"nice":false,"zero":false},"axis":{"values":[0,0.25,0.5,0.75,1],"format":".2~f","tickSize":-2,"labelPadding":5,"title":null}}},
"layer":[
{"data":{"name":"cal"},"mark":{"type":"point","filled":true,"size":9,"color":"#f00","opacity":1}},
{"data":{"name":"cl"},"transform":[{"filter":"datum.s=='AR'"}],"mark":{"type":"line","color":"#f01020","strokeWidth":2.4,"interpolate":"monotone"}},
{"data":{"name":"cbl"},"mark":{"type":"point","filled":true,"size":5,"color":"#1010f0","opacity":1}},
{"data":{"name":"cl"},"transform":[{"filter":"datum.s=='BR'"}],"mark":{"type":"line","color":"#1818e8","strokeWidth":1.8,"strokeDash":[6,3],"interpolate":"monotone"}},
{"data":{"name":"cl"},"transform":[{"filter":"datum.s=='C'"}],"mark":{"type":"line","color":"#0a7a14","strokeWidth":1.8,"strokeDash":[5,1.5,1.5,1.5],"interpolate":"monotone"}},
{"data":{"name":"txt"},"transform":[{"filter":"datum.p=='c'&&datum.k=='Blk'"}],"mark":{"type":"text","style":"Blk","color":"#333"},"encoding":{"text":{"field":"s"}}}
]},
{"width":224,"height":99,"view":{"stroke":"#888"},
"encoding":{"x":{"field":"x","type":"quantitative","scale":{"domain":[0,750],"nice":false,"zero":false},"axis":{"values":[0,50,100,150,200,250,300,350,400,450,500,550,600,650,700,750],"labelExpr":"datum.value%200==0&&datum.value>0?datum.label:''","tickSize":-2,"labelPadding":3,"title":"𝑡 (units of ℏ/ξ)","titlePadding":2}},"y":{"field":"y","type":"quantitative","scale":{"domain":[0,1],"nice":false,"zero":false},"axis":{"values":[0,0.25,0.5,0.75,1],"format":".2~f","tickSize":-2,"labelPadding":5,"title":null}}},
"layer":[
{"data":{"name":"dal"},"mark":{"type":"point","filled":true,"size":9,"color":"#f00","opacity":1}},
{"data":{"name":"dl"},"transform":[{"filter":"datum.s=='AR'"}],"mark":{"type":"line","color":"#f01020","strokeWidth":2.4,"interpolate":"monotone"}},
{"data":{"name":"dbl"},"mark":{"type":"point","filled":true,"size":5,"color":"#1010f0","opacity":1}},
{"data":{"name":"dl"},"transform":[{"filter":"datum.s=='BR'"}],"mark":{"type":"line","color":"#1818e8","strokeWidth":1.8,"strokeDash":[6,3],"interpolate":"monotone"}},
{"data":{"name":"dl"},"transform":[{"filter":"datum.s=='C'"}],"mark":{"type":"line","color":"#0a7a14","strokeWidth":1.8,"strokeDash":[5,1.5,1.5,1.5],"interpolate":"monotone"}},
{"data":{"name":"leg"},"transform":[{"filter":"datum.s=='box'"}],"mark":{"type":"rect","fill":"#fff","stroke":"#888","strokeWidth":1},"encoding":{"x2":{"field":"x2"},"y2":{"field":"y2"}}},
{"data":{"name":"leg"},"transform":[{"filter":"datum.s=='AL'"}],"mark":{"type":"point","filled":true,"size":9,"color":"#f00","opacity":1}},
{"data":{"name":"leg"},"transform":[{"filter":"datum.s=='BL'"}],"mark":{"type":"point","filled":true,"size":7,"color":"#1010f0","opacity":1}},
{"data":{"name":"leg"},"transform":[{"filter":"datum.s=='AR'"}],"mark":{"type":"rule","color":"#f01020","strokeWidth":2.4},"encoding":{"x2":{"field":"x2"}}},
{"data":{"name":"leg"},"transform":[{"filter":"datum.s=='BR'"}],"mark":{"type":"rule","color":"#1818e8","strokeWidth":1.8,"strokeDash":[8,4]},"encoding":{"x2":{"field":"x2"}}},
{"data":{"name":"leg"},"transform":[{"filter":"datum.s=='C'"}],"mark":{"type":"rule","color":"#0a7a14","strokeWidth":1.8,"strokeDash":[5,1.5,1.5,1.5]},"encoding":{"x2":{"field":"x2"}}},
{"data":{"name":"txt"},"transform":[{"filter":"datum.p=='d'&&datum.k=='Blk'"}],"mark":{"type":"text","style":"Blk","color":"#333"},"encoding":{"text":{"field":"s"}}},
{"data":{"name":"txt"},"transform":[{"filter":"datum.p=='d'&&datum.k=='Pp'"}],"mark":{"type":"text","style":"Pp","color":"#222","align":"left"},"encoding":{"text":{"field":"s"}}},
{"data":{"name":"txt"},"transform":[{"filter":"datum.p=='d'&&datum.k=='Ps'"}],"mark":{"type":"text","style":"Ps","color":"#222","align":"left"},"encoding":{"text":{"field":"s"}}}
]}
],"spacing":9,"bounds":"flush"},
{"vconcat":[
{"width":218,"height":105,"view":{"fill":"#00008f","stroke":"#aaa"},
"encoding":{"x":{"field":"x","type":"quantitative","scale":{"domain":[0.75,12.28],"nice":false,"zero":false},"axis":null},"y":{"field":"y","type":"quantitative","scale":{"domain":[300,750],"nice":false,"zero":false},"axis":{"values":[400,600],"tickSize":0,"labelPadding":3,"title":"𝑡 (units of ℏ/ξ)","titleX":-21,"titleY":105}}},
"layer":[
{"data":{"name":"e"},"mark":{"type":"point","filled":true,"opacity":1,"clip":true,"strokeWidth":0,"shape":"M0,-2.2A1,2.2 0 1 1 0,2.2A1,2.2 0 1 1 0,-2.2Z"},"encoding":{"order":{"field":"v","type":"quantitative"},"size":{"field":"h","type":"quantitative","scale":{"type":"pow","exponent":2,"domain":[0,100],"range":[0,869]},"legend":null},"color":{"field":"v","type":"quantitative","scale":{"domain":[0,0.02875,0.08625,0.14375,0.20125,0.23],"range":["#00008f","#0000ff","#00ffff","#ffff00","#ff0000","#800000"]},"legend":{"orient":"none","legendX":216,"legendY":0,"padding":0,"direction":"vertical","gradientLength":211,"gradientThickness":9,"title":null,"values":[0,0.05,0.1,0.15,0.2],"format":".2~f","labelFont":"Liberation Sans","labelFontSize":10.8,"labelColor":"#333","labelOffset":3}}}},
{"data":{"name":"txt"},"transform":[{"filter":"datum.p=='e'&&datum.k=='Tag'"}],"mark":{"type":"text","style":"Tag","color":"#e4e4f4"},"encoding":{"text":{"field":"s"}}}
]},
{"width":218,"height":105,"view":{"fill":"#00008f","stroke":"#aaa"},
"encoding":{"x":{"field":"x","type":"quantitative","scale":{"domain":[0.75,12.28],"nice":false,"zero":false},"axis":{"values":[1,6,12],"tickSize":-2,"tickColor":"#ccc","labelPadding":3,"title":"j","titleFontStyle":"italic","titlePadding":2}},"y":{"field":"y","type":"quantitative","scale":{"domain":[300,750],"nice":false,"zero":false},"axis":{"values":[400,600],"tickSize":0,"labelPadding":3,"title":null}}},
"layer":[
{"data":{"name":"f"},"mark":{"type":"point","filled":true,"opacity":1,"clip":true,"strokeWidth":0,"shape":"M0,-2.2A1,2.2 0 1 1 0,2.2A1,2.2 0 1 1 0,-2.2Z"},"encoding":{"order":{"field":"v","type":"quantitative"},"size":{"field":"h","type":"quantitative","scale":{"type":"pow","exponent":2,"domain":[0,100],"range":[0,869]},"legend":null},"color":{"field":"v","type":"quantitative","scale":{"domain":[0,0.02875,0.08625,0.14375,0.20125,0.23],"range":["#00008f","#0000ff","#00ffff","#ffff00","#ff0000","#800000"]},"legend":null}}},
{"data":{"name":"txt"},"transform":[{"filter":"datum.p=='f'&&datum.k=='Tag'"}],"mark":{"type":"text","style":"Tag","color":"#e4e4f4"},"encoding":{"text":{"field":"s"}}}
]}
],"spacing":1.5,"bounds":"flush"}
],"spacing":267,"bounds":"flush","resolve":{"scale":{"color":"independent","stroke":"independent","size":"independent"},"legend":{"color":"independent"}}}
]}
